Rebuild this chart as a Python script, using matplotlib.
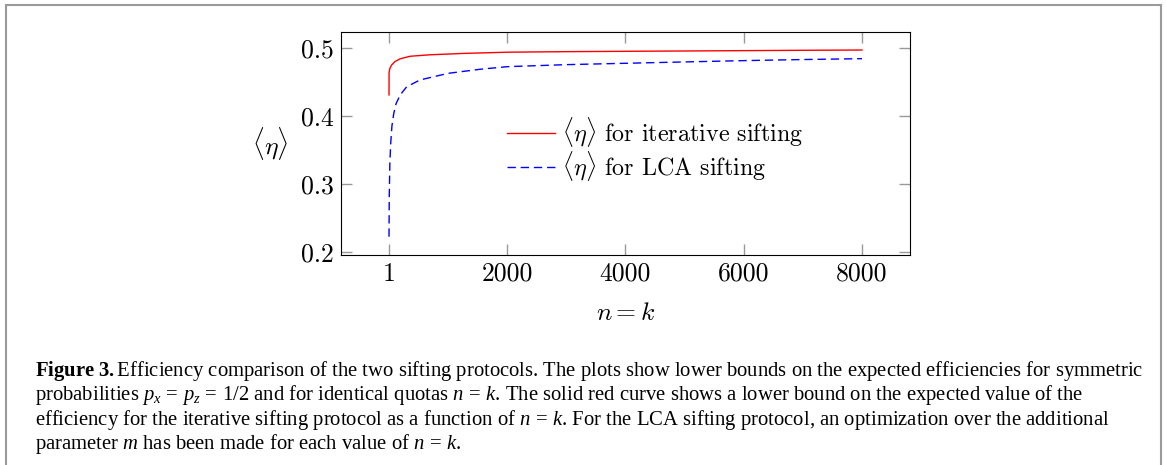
import matplotlib
matplotlib.use('Agg')
import matplotlib.pyplot as plt
from matplotlib.font_manager import FontProperties
from matplotlib.lines import Line2D

plt.rcParams['mathtext.fontset'] = 'custom'
plt.rcParams['mathtext.rm'] = 'Liberation Serif'
plt.rcParams['mathtext.it'] = 'Liberation Serif:italic'
plt.rcParams['mathtext.bf'] = 'Liberation Serif:bold'
plt.rcParams['font.family'] = ['Liberation Serif', 'DejaVu Serif']
plt.rcParams['axes.unicode_minus'] = False

# values
n_iter = [1, 2, 6, 15, 46, 102, 187, 356, 694, 1258, 2000, 3000, 4000, 5000, 6000, 7000, 8000]
eta_iter = [0.431, 0.463, 0.466, 0.470, 0.475, 0.480, 0.4840, 0.4878, 0.4900, 0.4920,
            0.4938, 0.4946, 0.4951, 0.4956, 0.4961, 0.4966, 0.4970]

n_lca = [1, 5, 15, 30, 50, 80, 120, 190, 300, 525, 1000, 1540, 2000, 3000, 4000,
         5000, 6000, 7000, 8000]
eta_lca = [0.2225, 0.28, 0.33, 0.36, 0.385, 0.403, 0.418, 0.431, 0.443, 0.453, 0.4627,
           0.4687, 0.4725, 0.4755, 0.4775, 0.4795, 0.4814, 0.4830, 0.4843]

xticks = [1, 2000, 4000, 6000, 8000]
yticks = [0.2, 0.3, 0.4, 0.5]
legend_labels = [r'$\langle\eta\rangle$ for iterative sifting',
                 r'$\langle\eta\rangle$ for LCA sifting']

caption_lines = [
    r'$\mathbf{Figure\ 3.}$Efficiency comparison of the two sifting protocols. The plots show lower bounds on the expected efficiencies for symmetric',
    r'probabilities $p_x\, =\, p_z\, =\, 1/2$ and for identical quotas $n\, =\, k$. The solid red curve shows a lower bound on the expected value of the',
    r'efficiency for the iterative sifting protocol as a function of $n\, =\, k$. For the LCA sifting protocol, an optimization over the additional',
    r'parameter $m$ has been made for each value of $n\, =\, k$.',
]

W, H = 1166, 465
fig = plt.figure(figsize=(W / 100, H / 100), dpi=100)
ax = fig.add_axes([341 / W, 1 - 255 / H, (910 - 341) / W, (255 - 32) / H])

cm = FontProperties(family='cmr10', size=18.5, math_fontfamily='cm')
cm_leg = FontProperties(family='cmr10', size=17.3, math_fontfamily='cm')

ax.plot(n_iter, eta_iter, color='#ff0000', lw=1.0, label=legend_labels[0])
ax.plot(n_lca, eta_lca, color='#0000ff', lw=1.0, dashes=(6, 3.5), label=legend_labels[1])

ax.set_xlim(-811, 8812)
ax.set_ylim(0.1956, 0.5235)
ax.set_xticks(xticks)
ax.set_xticklabels([str(v) for v in xticks], fontproperties=cm)
ax.set_yticks(yticks)
ax.set_yticklabels(['%.1f' % v for v in yticks], fontproperties=cm)
ax.tick_params(direction='in', length=8, width=1.0, color='#999999',
               top=True, right=True, pad=5)
for s in ax.spines.values():
    s.set_linewidth(0.8)

ax.set_xlabel(r'$n = k$', fontproperties=cm)
ax.xaxis.set_label_coords(0.5, -(313 - 255) / 223)
ax.xaxis.label.set_va('center')
ax.set_ylabel(r'$\langle\eta\rangle$', fontproperties=cm, rotation=0)
ax.yaxis.set_label_coords((270 - 341) / 569, 0.5)
ax.yaxis.label.set_va('center')
ax.yaxis.label.set_ha('center')

ax.legend(loc='center left', bbox_to_anchor=((507 - 341) / 569, (255 - 149) / 223),
          frameon=False, prop=cm_leg, handlelength=2.0, handletextpad=0.3,
          borderpad=0, borderaxespad=0, labelspacing=0.0)

# caption
base = [376, 400, 424.5, 449]
for line, y in zip(caption_lines, base):
    fig.text(35 / W, 1 - y / H, line, fontsize=14.9, va='baseline', ha='left',
             math_fontfamily='custom')

# outer frame
frame = dict(color='#9a9a9a', lw=1.5, transform=fig.transFigure)
fig.add_artist(Line2D([6 / W, 6 / W], [0, 1 - 5 / H], **frame))
fig.add_artist(Line2D([1161 / W, 1161 / W], [0, 1 - 5 / H], **frame))
fig.add_artist(Line2D([6 / W, 1161 / W], [1 - 5 / H, 1 - 5 / H], **frame))

fig.savefig('out.png', dpi=100)
